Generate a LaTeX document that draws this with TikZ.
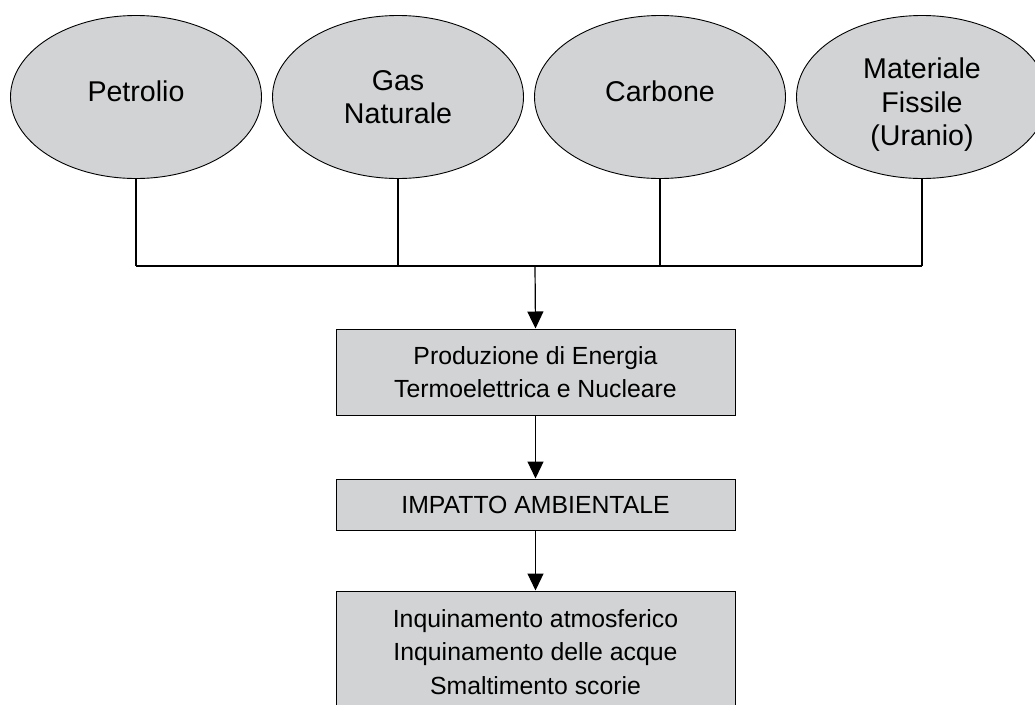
\documentclass[tikz,border=0pt]{standalone}
\usepackage{fontspec}
\setmainfont{Liberation Sans}
\usetikzlibrary{shapes.geometric,arrows.meta}
\definecolor{fillgrey}{HTML}{D1D3D4}
\begin{document}
\begin{tikzpicture}[x=1pt,y=-1pt,
  src/.style={ellipse,draw=black,line width=0.9pt,fill=fillgrey,minimum width=251pt,minimum height=163pt,inner sep=0pt,align=center,font=\fontsize{28.6}{33.5}\selectfont},
  srctext/.style={inner sep=0pt,align=center,font=\fontsize{28.6}{33.5}\selectfont},
  boxn/.style={rectangle,draw=black,line width=1pt,fill=fillgrey,minimum width=399pt,inner sep=0pt,align=center,font=\fontsize{24.8}{33.5}\selectfont},
  conn/.style={line width=1.2pt},
  arr/.style={line width=1.2pt,-{Triangle[length=17pt,width=16pt]}}]
\useasboundingbox (0,0) rectangle (1035,704);
\node[src] (p) at (136,97) {};
\node[srctext] (pt) at ([yshift=6pt]p.center) {Petrolio};
\node[src] (g) at (398,97) {Gas\\Naturale};
\node[src] (c) at (660,97) {};
\node[srctext] (ct) at ([yshift=6pt]c.center) {Carbone};
\node[src] (m) at (922,97) {};
\node[srctext] (mt) at ([yshift=-8pt]m.center) {Materiale\\Fissile\\(Uranio)};
\coordinate (jp) at (136,266);
\coordinate (jg) at (398,266);
\coordinate (jc) at (660,266);
\coordinate (jm) at (922,266);
\coordinate (jmid) at (535,266);
\draw[conn] (p.south) -- (jp);
\draw[conn] (g.south) -- (jg);
\draw[conn] (c.south) -- (jc);
\draw[conn] (m.south) -- (jm);
\draw[conn] (jp) -- (jm);
\node[boxn,minimum height=86pt] (b1) at (535.5,372) {Produzione di Energia\\Termoelettrica e Nucleare};
\node[boxn,minimum height=51pt] (b2) at (535.5,504.5) {IMPATTO AMBIENTALE};
\node[boxn,minimum height=122pt,text depth=0pt] (b3) at (535.5,652) {Inquinamento atmosferico\\Inquinamento delle acque\\Smaltimento scorie};
\draw[arr] (jmid) -- (b1.north);
\draw[arr] (b1.south) -- (b2.north);
\draw[arr] (b2.south) -- (b3.north);
\end{tikzpicture}
\end{document}
